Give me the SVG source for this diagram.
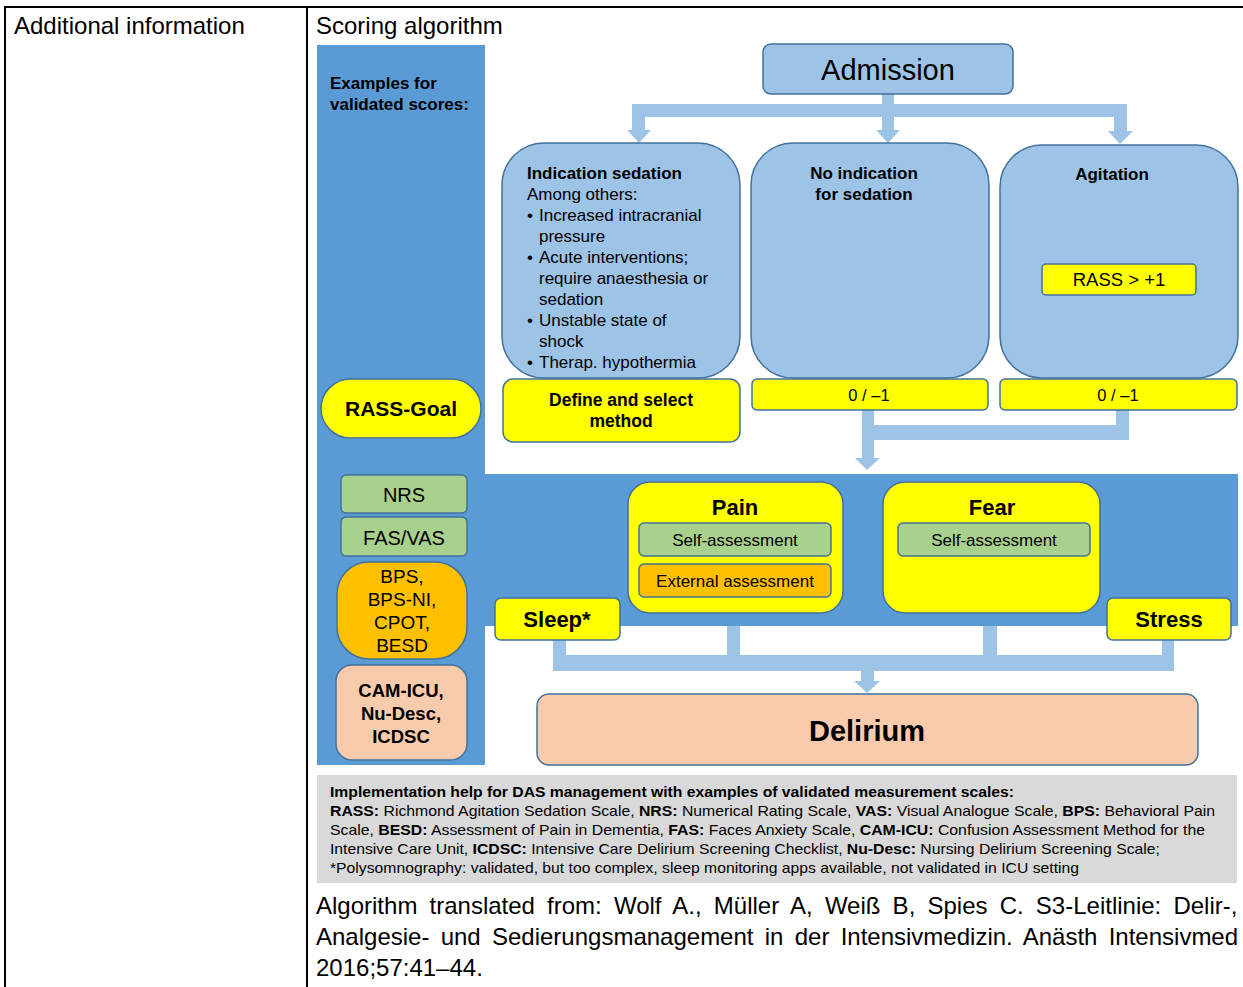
<svg xmlns="http://www.w3.org/2000/svg" width="1243" height="987" viewBox="0 0 1243 987">
<style>
text{font-family:"Liberation Sans",Arial,sans-serif;fill:#000}
.b{font-weight:bold}
.m{text-anchor:middle}
.lb{fill:#9DC3E6;stroke:#41719C;stroke-width:1.5}
.ye{fill:#FFFF00;stroke:#41719C;stroke-width:1.5}
.gr{fill:#A9D18E;stroke:#41719C;stroke-width:1.5}
.or{fill:#FFC000;stroke:#41719C;stroke-width:1.5}
.pe{fill:#F8CBAD;stroke:#41719C;stroke-width:1.5}
.cn{fill:#9DC3E6}
.tl{stroke:#000;stroke-width:2;fill:none}
</style>
<rect width="1243" height="987" fill="#fff"/>
<g id="table">
<path class="tl" d="M5,7 H1243 M5,6 V987 M307,6 V987"/>
<text x="14" y="34" font-size="24">Additional information</text>
<text x="316" y="34" font-size="24">Scoring algorithm</text>
</g>
<g id="panel">
<rect x="317" y="45" width="168" height="720" fill="#5B9BD5"/>
<rect x="485" y="474" width="753" height="152" fill="#5B9BD5"/>
<text x="330" y="89" font-size="17" class="b">Examples for</text>
<text x="330" y="110" font-size="17" class="b">validated scores:</text>
</g>
<g id="connectors">
<rect class="cn" x="882" y="94" width="12" height="12"/>
<rect class="cn" x="632" y="104" width="495" height="13"/>
<rect class="cn" x="632" y="116" width="13" height="15"/>
<polygon class="cn" points="627,130 651,130 639,143"/>
<rect class="cn" x="882" y="116" width="12" height="15"/>
<polygon class="cn" points="876,130 900,130 888,143"/>
<rect class="cn" x="1114" y="116" width="13" height="16"/>
<polygon class="cn" points="1108,131 1133,131 1120,144"/>
<rect class="cn" x="862" y="410" width="12" height="49"/>
<rect class="cn" x="862" y="425" width="267" height="15"/>
<rect class="cn" x="1116" y="410" width="13" height="30"/>
<polygon class="cn" points="855,458 880,458 867,470"/>
<rect class="cn" x="553" y="640" width="13" height="31"/>
<rect class="cn" x="727" y="626" width="13" height="45"/>
<rect class="cn" x="983" y="626" width="14" height="45"/>
<rect class="cn" x="1162" y="640" width="12" height="31"/>
<rect class="cn" x="553" y="655" width="621" height="16"/>
<rect class="cn" x="861" y="670" width="13" height="12"/>
<polygon class="cn" points="854,681 880,681 867,693"/>
</g>
<g id="admission">
<rect class="lb" x="763" y="44" width="250" height="50" rx="8"/>
<text x="888" y="80" font-size="29" class="m">Admission</text>
</g>
<g id="indication-sedation">
<rect class="lb" x="502" y="143" width="238" height="235" rx="42"/>
<text x="527" y="179" font-size="17" class="b">Indication sedation</text>
<text x="527" y="200" font-size="17">Among others:</text>
<text x="527" y="221" font-size="17">•</text><text x="539" y="221" font-size="17">Increased intracranial</text>
<text x="539" y="242" font-size="17">pressure</text>
<text x="527" y="263" font-size="17">•</text><text x="539" y="263" font-size="17">Acute interventions;</text>
<text x="539" y="284" font-size="17">require anaesthesia or</text>
<text x="539" y="305" font-size="17">sedation</text>
<text x="527" y="326" font-size="17">•</text><text x="539" y="326" font-size="17">Unstable state of</text>
<text x="539" y="347" font-size="17">shock</text>
<text x="527" y="368" font-size="17">•</text><text x="539" y="368" font-size="17">Therap. hypothermia</text>
</g>
<g id="no-indication">
<rect class="lb" x="751" y="143" width="238" height="235" rx="42"/>
<text x="864" y="179" font-size="17" class="b m">No indication</text>
<text x="864" y="200" font-size="17" class="b m">for sedation</text>
</g>
<g id="agitation">
<rect class="lb" x="1000" y="145" width="238" height="233" rx="42"/>
<text x="1112" y="180" font-size="17" class="b m">Agitation</text>
</g>
<g id="rass-plus1">
<rect class="ye" x="1042" y="264" width="154" height="31" rx="4"/>
<text x="1119" y="286" font-size="18.5" class="m">RASS &gt; +1</text>
</g>
<g id="define-method">
<rect class="ye" x="503" y="379" width="237" height="63" rx="10"/>
<text x="621" y="406" font-size="17.5" class="b m">Define and select</text>
<text x="621" y="427" font-size="17.5" class="b m">method</text>
</g>
<g id="goal-0">
<rect class="ye" x="752" y="379" width="236" height="31" rx="5"/>
<text x="869" y="401" font-size="16.5" class="m">0 / –1</text>
</g>
<g id="goal-1">
<rect class="ye" x="1000" y="379" width="237" height="31" rx="5"/>
<text x="1118" y="401" font-size="16.5" class="m">0 / –1</text>
</g>
<g id="rass-goal">
<rect class="ye" x="321" y="379" width="160" height="59" rx="29.5"/>
<text x="401" y="416" font-size="21" class="b m">RASS-Goal</text>
</g>
<g id="nrs">
<rect class="gr" x="341" y="475" width="126" height="38" rx="5"/>
<text x="404" y="502" font-size="20" class="m">NRS</text>
</g>
<g id="fasvas">
<rect class="gr" x="341" y="517" width="126" height="39" rx="5"/>
<text x="404" y="545" font-size="20" class="m">FAS/VAS</text>
</g>
<g id="bps">
<rect class="or" x="337" y="562" width="130" height="97" rx="32"/>
<text x="402" y="583" font-size="19" class="m">BPS,</text>
<text x="402" y="606" font-size="19" class="m">BPS-NI,</text>
<text x="402" y="629" font-size="19" class="m">CPOT,</text>
<text x="402" y="652" font-size="19" class="m">BESD</text>
</g>
<g id="cam-icu">
<rect class="pe" x="336" y="665" width="131" height="95" rx="16"/>
<text x="401" y="697" font-size="18.5" class="b m">CAM-ICU,</text>
<text x="401" y="720" font-size="18.5" class="b m">Nu-Desc,</text>
<text x="401" y="743" font-size="18.5" class="b m">ICDSC</text>
</g>
<g id="pain">
<rect class="ye" x="628" y="482" width="215" height="131" rx="22"/>
<text x="735" y="515" font-size="22" class="b m">Pain</text>
<rect class="gr" x="639" y="523" width="192" height="33" rx="5"/>
<text x="735" y="546" font-size="17" class="m">Self-assessment</text>
<rect class="or" x="639" y="564" width="192" height="33" rx="5"/>
<text x="735" y="587" font-size="17" class="m">External assessment</text>
</g>
<g id="fear">
<rect class="ye" x="883" y="482" width="217" height="131" rx="22"/>
<text x="992" y="515" font-size="22" class="b m">Fear</text>
<rect class="gr" x="898" y="523" width="192" height="33" rx="5"/>
<text x="994" y="546" font-size="17" class="m">Self-assessment</text>
</g>
<g id="sleep">
<rect class="ye" x="495" y="598" width="125" height="42" rx="6"/>
<text x="557" y="627" font-size="22" class="b m">Sleep*</text>
</g>
<g id="stress">
<rect class="ye" x="1107" y="598" width="124" height="42" rx="6"/>
<text x="1169" y="627" font-size="22" class="b m">Stress</text>
</g>
<g id="delirium">
<rect class="pe" x="537" y="694" width="661" height="71" rx="12"/>
<text x="867" y="741" font-size="29" class="b m">Delirium</text>
</g>
<g id="legend">
<rect x="317" y="775" width="920" height="108" fill="#D9D9D9"/>
<text x="330" y="797" font-size="15" class="b" textLength="684" lengthAdjust="spacingAndGlyphs">Implementation help for DAS management with examples of validated measurement scales:</text>
<text x="330" y="816" font-size="15" textLength="885" lengthAdjust="spacingAndGlyphs"><tspan class="b">RASS:</tspan> Richmond Agitation Sedation Scale, <tspan class="b">NRS:</tspan> Numerical Rating Scale, <tspan class="b">VAS:</tspan> Visual Analogue Scale, <tspan class="b">BPS:</tspan> Behavioral Pain</text>
<text x="330" y="835" font-size="15" textLength="875" lengthAdjust="spacingAndGlyphs">Scale, <tspan class="b">BESD:</tspan> Assessment of Pain in Dementia, <tspan class="b">FAS:</tspan> Faces Anxiety Scale, <tspan class="b">CAM-ICU:</tspan> Confusion Assessment Method for the</text>
<text x="330" y="854" font-size="15" textLength="830" lengthAdjust="spacingAndGlyphs">Intensive Care Unit, <tspan class="b">ICDSC:</tspan> Intensive Care Delirium Screening Checklist, <tspan class="b">Nu-Desc:</tspan> Nursing Delirium Screening Scale;</text>
<text x="330" y="873" font-size="15" textLength="749" lengthAdjust="spacingAndGlyphs">*Polysomnography: validated, but too complex, sleep monitoring apps available, not validated in ICU setting</text>
</g>
<g id="citation">
<text x="316" y="914" font-size="24" word-spacing="5.5">Algorithm translated from: Wolf A., Müller A, Weiß B, Spies C. S3-Leitlinie: Delir-,</text>
<text x="316" y="945" font-size="24" word-spacing="4.6">Analgesie- und Sedierungsmanagement in der Intensivmedizin. Anästh Intensivmed</text>
<text x="316" y="976" font-size="24">2016;57:41–44.</text>
</g>
</svg>
